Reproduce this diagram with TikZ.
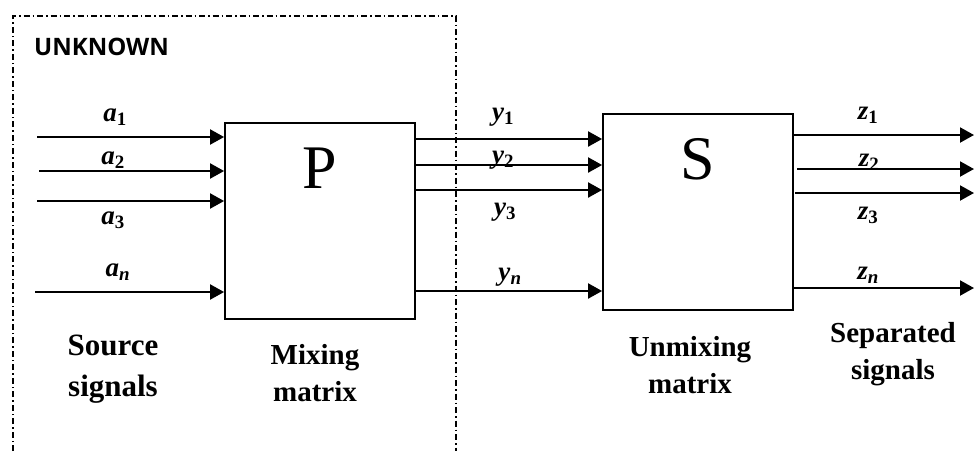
\documentclass[tikz,border=0pt]{standalone}
\usepackage{fontspec}
\setmainfont{Liberation Serif}
\newfontfamily\headfont{Open Sans}
\usetikzlibrary{arrows.meta}

\tikzset{
  sig/.style={line width=2pt, -{Triangle[length=14pt,width=15pt]}},
  blockbox/.style={draw, line width=1.8pt, minimum width=190pt, minimum height=196pt, inner sep=0pt},
  bigletter/.style={font=\fontsize{62}{62}\selectfont, inner sep=0pt},
  sublabel/.style={font=\fontsize{27}{27}\selectfont, inner sep=0pt},
  caption/.style={font=\bfseries\fontsize{29}{37}\selectfont, align=center, inner sep=0pt},
  frame/.style={line width=1.4pt, dash pattern=on 6pt off 3pt on 1.5pt off 3pt}
}
\newcommand{\sigvar}[2]{\textbf{\textit{#1}}\textsubscript{\textbf{#2}}}

\begin{document}
\begin{tikzpicture}[x=1pt, y=-1pt]
  \useasboundingbox (0,0) rectangle (974,451);

  % region of unknown quantities (open at the bottom)
  \draw[frame] (13,451) -- (13,16) -- (456,16) -- (456,451);
  \node[anchor=west, font=\headfont\bfseries\fontsize{24}{24}\selectfont, inner sep=0pt] (unk) at (34,47) {UNKNOWN};

  % mixing and unmixing blocks
  \node[blockbox] (P) at (320,221) {};
  \node[blockbox] (S) at (698,212) {};
  \node[bigletter] (Pl) at (320,168) {P};
  \node[bigletter] (Sl) at (698,159) {S};

  % source inputs
  \coordinate (a1s) at (37,137);
  \coordinate (a2s) at (39,171);
  \coordinate (a3s) at (37,201);
  \coordinate (ans) at (35,292);
  \draw[sig] (a1s) -- (P.west |- a1s);
  \draw[sig] (a2s) -- (P.west |- a2s);
  \draw[sig] (a3s) -- (P.west |- a3s);
  \draw[sig] (ans) -- (P.west |- ans);
  \node[sublabel] (la1) at (115,117) {\sigvar{a}{1}};
  \node[sublabel] (la2) at (113,160) {\sigvar{a}{2}};
  \node[sublabel] (la3) at (113,220) {\sigvar{a}{3}};
  \node[sublabel] (lan) at (118,272) {\sigvar{a}{\textit{n}}};

  % mixtures between the blocks
  \coordinate (y1) at (0,139);
  \coordinate (y2) at (0,165);
  \coordinate (y3) at (0,190);
  \coordinate (yn) at (0,291);
  \draw[sig] (P.east |- y1) -- (S.west |- y1);
  \draw[sig] (P.east |- y2) -- (S.west |- y2);
  \draw[sig] (P.east |- y3) -- (S.west |- y3);
  \draw[sig] (P.east |- yn) -- (S.west |- yn);
  \node[sublabel] (ly1) at (503,117) {\sigvar{y}{1}};
  \node[sublabel] (ly2) at (503,160) {\sigvar{y}{2}};
  \node[sublabel] (ly3) at (505,212) {\sigvar{y}{3}};
  \node[sublabel] (lyn) at (510,277) {\sigvar{y}{\textit{n}}};

  % separated outputs
  \coordinate (z1e) at (974,135);
  \coordinate (z2e) at (974,169);
  \coordinate (z3e) at (974,193);
  \coordinate (zne) at (974,288);
  \draw[sig] (S.east |- z1e) -- (z1e);
  \draw[sig] (797,169) -- (z2e);
  \draw[sig] (795,193) -- (z3e);
  \draw[sig] (S.east |- zne) -- (zne);
  \node[sublabel] (lz1) at (868,115) {\sigvar{z}{1}};
  \node[sublabel] (lz2) at (869,162) {\sigvar{z}{2}};
  \node[sublabel] (lz3) at (868,215) {\sigvar{z}{3}};
  \node[sublabel] (lzn) at (868,275) {\sigvar{z}{\textit{n}}};

  % captions
  \node[caption, font=\bfseries\fontsize{31}{41}\selectfont] (csrc) at (113,369) {Source\\signals};
  \node[caption] (cmix) at (315,373) {Mixing\\matrix};
  \node[caption] (cunmix) at (690,365) {Unmixing\\matrix};
  \node[caption] (csep) at (893,354) {Separated\\signals};
\end{tikzpicture}
\end{document}
